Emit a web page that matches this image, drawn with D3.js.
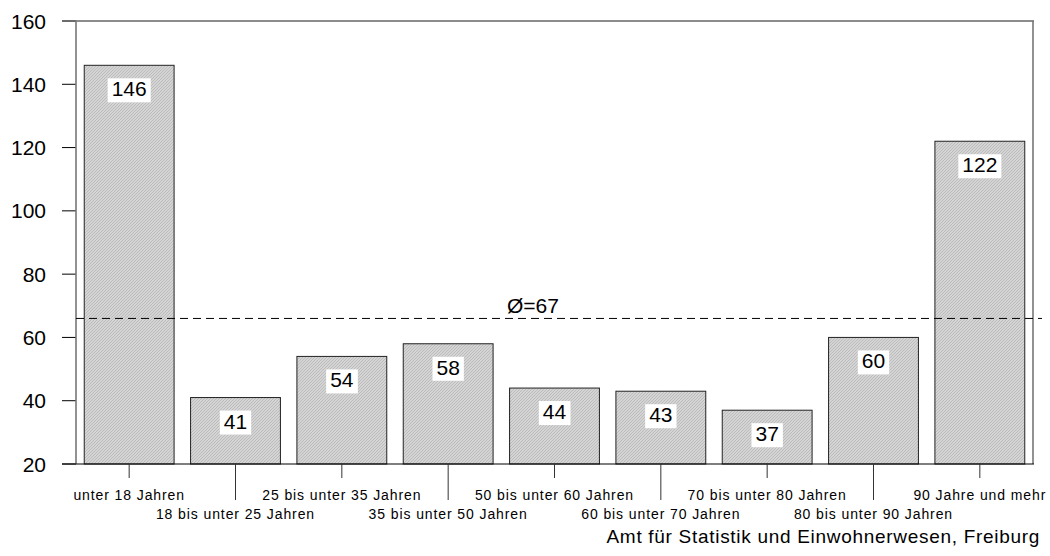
<!DOCTYPE html>
<html>
<head>
<meta charset="utf-8">
<script src="https://cdn.jsdelivr.net/npm/d3@7"></script>
<style>
  body { margin: 0; background: #fff; }
  text { font-family: Arial, "Liberation Sans", sans-serif; }
</style>
</head>
<body>
<script>
// data
var categories = ["unter 18 Jahren", "18 bis unter 25 Jahren", "25 bis unter 35 Jahren",
                  "35 bis unter 50 Jahren", "50 bis unter 60 Jahren", "60 bis unter 70 Jahren",
                  "70 bis unter 80 Jahren", "80 bis unter 90 Jahren", "90 Jahre und mehr"];
var values = [146, 41, 54, 58, 44, 43, 37, 60, 122];
var yTicks = [20, 40, 60, 80, 100, 120, 140, 160];
var avgLine = 66;
var avgLabel = "Ø=67";
var source = "Amt für Statistik und Einwohnerwesen, Freiburg";

var W = 1050, H = 556;
var pLeft = 76, pRight = 1033, pTop = 21, pBottom = 464;

var svg = d3.select("body").append("svg")
    .attr("width", W)
    .attr("height", H);

// hatch fill for the bars
var pat = svg.append("defs").append("pattern")
    .attr("id", "hatch")
    .attr("patternUnits", "userSpaceOnUse")
    .attr("width", 3)
    .attr("height", 3);
pat.append("rect").attr("width", 3).attr("height", 3).attr("fill", "#d4d4d4");
pat.append("path").attr("d", "M-1,1 L1,-1 M0,3 L3,0 M2,4 L4,2")
    .attr("stroke", "#b2b2b2").attr("stroke-width", 0.7);

var x = d3.scaleBand()
    .domain(categories)
    .range([pLeft, pRight])
    .paddingInner(0.155)
    .paddingOuter(0.0775);

var y = d3.scaleLinear()
    .domain([20, 160])
    .range([pBottom, pTop]);

// y axis ticks + labels
var yg = svg.append("g");
yg.selectAll("line")
    .data(yTicks)
    .enter().append("line")
      .attr("x1", 62).attr("x2", pLeft)
      .attr("y1", function(d) { return y(d); })
      .attr("y2", function(d) { return y(d); })
      .attr("stroke", "#000").attr("stroke-width", 1);
yg.selectAll("text")
    .data(yTicks)
    .enter().append("text")
      .attr("x", 46)
      .attr("y", function(d) { return y(d); })
      .attr("dy", "0.36em")
      .attr("text-anchor", "end")
      .attr("font-size", 21)
      .text(function(d) { return d; });

// frame
svg.append("line").attr("x1", 62).attr("x2", pRight + 1).attr("y1", pTop).attr("y2", pTop)
    .attr("stroke", "#666").attr("stroke-width", 1.3);
svg.append("line").attr("x1", pRight).attr("x2", pRight).attr("y1", pTop).attr("y2", pBottom)
    .attr("stroke", "#777").attr("stroke-width", 1.6);
svg.append("line").attr("x1", pLeft).attr("x2", pLeft).attr("y1", pTop).attr("y2", pBottom)
    .attr("stroke", "#777").attr("stroke-width", 1.6);

// bars
svg.selectAll(".bar")
    .data(values)
    .enter().append("rect")
      .attr("class", "bar")
      .attr("x", function(d, i) { return x(categories[i]); })
      .attr("y", function(d) { return y(d); })
      .attr("width", x.bandwidth())
      .attr("height", function(d) { return pBottom - y(d); })
      .attr("fill", "url(#hatch)")
      .attr("stroke", "#222")
      .attr("stroke-width", 1);

// x axis line
svg.append("line").attr("x1", 62).attr("x2", pRight + 1).attr("y1", pBottom).attr("y2", pBottom)
    .attr("stroke", "#000").attr("stroke-width", 1.2);

// average line
svg.append("line")
    .attr("x1", pLeft).attr("x2", 1042)
    .attr("y1", y(avgLine)).attr("y2", y(avgLine))
    .attr("stroke", "#000").attr("stroke-width", 1)
    .attr("stroke-dasharray", "8,5");
svg.append("text")
    .attr("x", 533).attr("y", y(avgLine) - 5)
    .attr("text-anchor", "middle")
    .attr("font-size", 21)
    .text(avgLabel);

// value labels in white boxes
var vl = svg.selectAll(".val")
    .data(values)
    .enter().append("g")
      .attr("class", "val");
vl.append("rect").attr("fill", "#fff");
vl.append("text")
    .attr("x", function(d, i) { return x(categories[i]) + x.bandwidth() / 2; })
    .attr("y", function(d) { return y(d) + 31; })
    .attr("text-anchor", "middle")
    .attr("font-size", 21)
    .text(function(d) { return d; });
vl.each(function() {
  var b = d3.select(this).select("text").node().getBBox();
  d3.select(this).select("rect")
    .attr("x", b.x - 4).attr("y", b.y + 1)
    .attr("width", b.width + 8).attr("height", b.height + 1);
});

// category ticks + labels, alternating rows
var cg = svg.append("g");
cg.selectAll("line")
    .data(categories)
    .enter().append("line")
      .attr("x1", function(d) { return x(d) + x.bandwidth() / 2; })
      .attr("x2", function(d) { return x(d) + x.bandwidth() / 2; })
      .attr("y1", pBottom)
      .attr("y2", function(d, i) { return i % 2 ? 500 : 478; })
      .attr("stroke", "#333").attr("stroke-width", 1);
cg.selectAll("text")
    .data(categories)
    .enter().append("text")
      .attr("x", function(d) { return x(d) + x.bandwidth() / 2; })
      .attr("y", function(d, i) { return i % 2 ? 519 : 500; })
      .attr("text-anchor", "middle")
      .attr("font-size", 14)
      .attr("letter-spacing", 0.9)
      .text(function(d) { return d; });

// source
svg.append("text")
    .attr("x", 1040).attr("y", 543)
    .attr("text-anchor", "end")
    .attr("font-size", 19)
    .attr("letter-spacing", 0.7)
    .text(source);
</script>
</body>
</html>
